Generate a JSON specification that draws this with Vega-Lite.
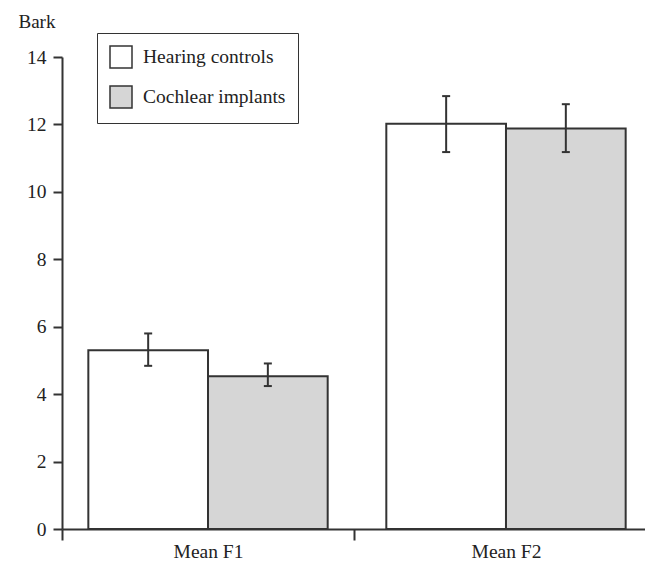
{
  "$schema": "https://vega.github.io/schema/vega-lite/v6.json",
  "width": 590,
  "height": 472,
  "autosize": {"type": "none"},
  "padding": {"left": 62, "top": 57, "right": 0, "bottom": 38},
  "background": "white",
  "config": {
    "view": {"stroke": null},
    "font": "Liberation Serif",
    "axis": {"domainColor": "#333", "tickColor": "#333", "labelColor": "#222", "titleColor": "#222", "domainWidth": 2, "tickWidth": 2, "grid": false, "labelFont": "Liberation Serif", "titleFont": "Liberation Serif"}
  },
  "data": {
    "values": [
      {"measure": "Mean F1", "group": "Hearing controls", "mean": 5.3, "lo": 4.84, "hi": 5.8},
      {"measure": "Mean F1", "group": "Cochlear implants", "mean": 4.53, "lo": 4.24, "hi": 4.91},
      {"measure": "Mean F2", "group": "Hearing controls", "mean": 12.02, "lo": 11.18, "hi": 12.84},
      {"measure": "Mean F2", "group": "Cochlear implants", "mean": 11.88, "lo": 11.18, "hi": 12.6}
    ]
  },
  "encoding": {
    "x": {
      "field": "measure",
      "type": "nominal",
      "scale": {"paddingInner": 0.02, "paddingOuter": 0},
      "axis": {"title": null, "labelAngle": 0, "labelFontSize": 19.5, "tickBand": "extent", "tickSize": 11, "labelPadding": 2, "labelBaseline": "top"}
    },
    "xOffset": {
      "field": "group",
      "type": "nominal",
      "sort": ["Hearing controls", "Cochlear implants"],
      "scale": {"paddingOuter": 0.22, "paddingInner": 0}
    }
  },
  "layer": [
    {
      "mark": {"type": "bar", "stroke": "#333", "strokeWidth": 2},
      "encoding": {
        "y": {
          "field": "mean",
          "type": "quantitative",
          "title": "Bark",
          "scale": {"domain": [0, 14], "nice": false},
          "axis": {"values": [0, 2, 4, 6, 8, 10, 12, 14], "tickSize": 9, "labelPadding": 7, "labelFontSize": 19.5, "titleFontSize": 19, "titleFontWeight": "normal", "titleAngle": 0, "titleAlign": "left", "titleBaseline": "alphabetic", "titleX": -44, "titleY": -30}
        },
        "fill": {
          "field": "group",
          "type": "nominal",
          "sort": ["Hearing controls", "Cochlear implants"],
          "scale": {"range": ["white", "#d6d6d6"]},
          "legend": {
            "title": null,
            "orient": "none",
            "legendX": 35,
            "legendY": -24,
            "direction": "vertical",
            "strokeColor": "#333",
            "fillColor": "white",
            "padding": 12,
            "symbolType": "square",
            "symbolSize": 484,
            "symbolStrokeColor": "#333",
            "symbolStrokeWidth": 1.5,
            "symbolOpacity": 1,
            "labelFont": "Liberation Serif",
            "labelFontSize": 19.5,
            "labelColor": "#222",
            "labelOffset": 10,
            "rowPadding": 12
          }
        }
      }
    },
    {
      "mark": {"type": "rule", "stroke": "#333", "strokeWidth": 2},
      "encoding": {
        "y": {"field": "lo", "type": "quantitative", "title": "Bark"},
        "y2": {"field": "hi"}
      }
    },
    {
      "mark": {"type": "tick", "color": "#333", "thickness": 2, "size": 8, "opacity": 1},
      "encoding": {"y": {"field": "lo", "type": "quantitative", "title": "Bark"}}
    },
    {
      "mark": {"type": "tick", "color": "#333", "thickness": 2, "size": 8, "opacity": 1},
      "encoding": {"y": {"field": "hi", "type": "quantitative", "title": "Bark"}}
    }
  ]
}
